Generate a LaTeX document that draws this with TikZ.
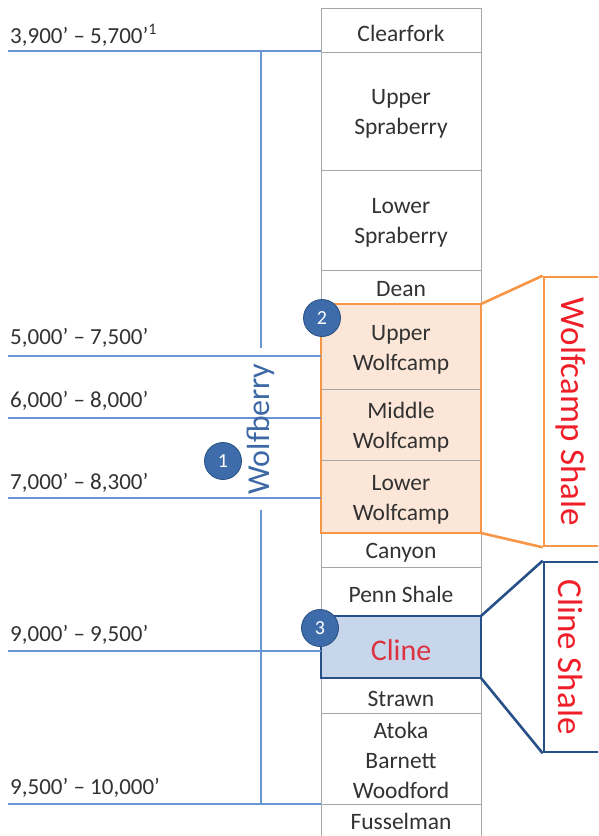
\documentclass[tikz,border=0pt]{standalone}
\usepackage{fontspec}
\setmainfont{Carlito}
\definecolor{gridgray}{RGB}{166,166,166}
\definecolor{txtgray}{RGB}{50,50,50}
\definecolor{lineblue}{RGB}{104,150,210}
\definecolor{wbblue}{RGB}{60,104,165}
\definecolor{orng}{RGB}{247,150,70}
\definecolor{orngfill}{RGB}{252,230,215}
\definecolor{dkblue}{RGB}{38,80,135}
\definecolor{bluefill}{RGB}{200,214,235}
\definecolor{shalered}{RGB}{240,30,40}
\definecolor{clinered}{RGB}{220,50,65}
\definecolor{circfill}{RGB}{62,108,170}
\definecolor{circedge}{RGB}{40,80,130}
\begin{document}
\begin{tikzpicture}[x=1pt,y=-1pt,
  layer/.style={draw=gridgray,line width=0.9pt,minimum width=160pt,inner sep=0pt,outer sep=0pt},
  wclayer/.style={layer,fill=orngfill},
  rowtxt/.style={align=center,inner sep=0pt,text=txtgray,font=\fontsize{23.5}{30}\selectfont},
  depthlbl/.style={anchor=west,inner sep=0pt,text=txtgray,font=\fontsize{23}{27}\selectfont},
  depthline/.style={draw=lineblue,line width=1.3pt},
  numcirc/.style={circle,fill=circfill,draw=circedge,line width=0.8pt,minimum size=37pt,inner sep=0pt,
    text=white,font=\fontsize{20}{24}\selectfont},
  orngline/.style={draw=orng,line width=2.6pt,line join=miter},
  blueline/.style={draw=dkblue,line width=2.6pt,line join=miter},
  shaletxt/.style={text=shalered,inner sep=0pt,font=\fontsize{35}{40}\selectfont}
]
\clip (0,0) rectangle (598,836);
\fill[white] (0,0) rectangle (598,836);

% column boxes
\node[layer,minimum height=44pt] (clear) at (401,30) {};
\node[layer,minimum height=118pt] (usp) at (401,111) {};
\node[layer,minimum height=100pt] (lsp) at (401,220) {};
\node[layer,minimum height=34pt] (dean) at (401,287) {};
\node[wclayer,minimum height=85pt] (uw) at (401,346.5) {};
\node[wclayer,minimum height=71pt] (mw) at (401,424.5) {};
\node[wclayer,minimum height=73pt] (lw) at (401,496.5) {};
\node[layer,minimum height=34pt] (canyon) at (401,550) {};
\node[layer,minimum height=49pt] (penn) at (401,591.5) {};
\node[layer,fill=bluefill,minimum height=62pt] (cline) at (401,647) {};
\node[layer,minimum height=35pt] (strawn) at (401,695.5) {};
\node[layer,minimum height=91pt] (atoka) at (401,758.5) {};
\node[layer,minimum height=40pt] (fuss) at (401,824) {};

% column texts
\node[rowtxt] (tclear) at ([yshift=-3pt]clear.center) {Clearfork};
\node[rowtxt] (tusp) at ([yshift=-3pt]usp.center) {Upper\\Spraberry};
\node[rowtxt] (tlsp) at ([yshift=-3pt]lsp.center) {Lower\\Spraberry};
\node[rowtxt] (tdean) at ([yshift=-2pt]dean.center) {Dean};
\node[rowtxt] (tuw) at ([yshift=-3pt]uw.center) {Upper\\Wolfcamp};
\node[rowtxt] (tmw) at ([yshift=-3pt]mw.center) {Middle\\Wolfcamp};
\node[rowtxt] (tlw) at ([yshift=-3pt]lw.center) {Lower\\Wolfcamp};
\node[rowtxt] (tcanyon) at ([yshift=-3pt]canyon.center) {Canyon};
\node[rowtxt] (tpenn) at ([yshift=-3pt]penn.center) {Penn Shale};
\node[rowtxt,text=clinered,font=\fontsize{30}{34}\selectfont] (tcline) at ([yshift=-3pt]cline.center) {Cline};
\node[rowtxt] (tstrawn) at ([yshift=-3pt]strawn.center) {Strawn};
\node[rowtxt] (tatoka) at ([yshift=-2pt]atoka.center) {Atoka\\Barnett\\Woodford};
\node[rowtxt] (tfuss) at (401,821) {Fusselman};

% highlighted borders
\draw[orngline] (uw.north west) rectangle (lw.south east);
\draw[blueline] (cline.north west) rectangle (cline.south east);

% callouts
\node[draw=orng,line width=2.6pt,minimum width=56pt,minimum height=269pt,inner sep=0pt] (wsb) at (572,411.5) {};
\draw[orngline] (uw.north east) -- (wsb.north west);
\draw[orngline] (lw.south east) -- (wsb.south west);
\node[shaletxt,rotate=-90] (wst) at (571,412) {Wolfcamp Shale};

\node[draw=dkblue,line width=2.6pt,minimum width=56pt,minimum height=190pt,inner sep=0pt] (csb) at (572,657) {};
\draw[blueline] (cline.north east) -- (csb.north west);
\draw[blueline] (cline.south east) -- (csb.south west);
\node[shaletxt,rotate=-90] (cst) at (571,657) {Cline Shale};

% depth labels and lines
\node[depthlbl] (l1) at (10,35) {3,900’ – 5,700’\textsuperscript{1}};
\node[depthlbl] (l2) at (10,338) {5,000’ – 7,500’};
\node[depthlbl] (l3) at (10,401) {6,000’ – 8,000’};
\node[depthlbl] (l4) at (10,483) {7,000’ – 8,300’};
\node[depthlbl] (l5) at (10,635) {9,000’ – 9,500’};
\node[depthlbl] (l6) at (10,788) {9,500’ – 10,000’};
\coordinate (d1) at (8,51);
\coordinate (d2) at (8,356);
\coordinate (d3) at (8,418);
\coordinate (d4) at (8,498);
\coordinate (d5) at (8,651);
\coordinate (d6) at (8,804);
\foreach \d in {d1,d2,d3,d4,d5,d6} {\draw[depthline] (\d) -- (\d -| clear.west);}

% Wolfberry bracket
\coordinate (bt) at (261,51);
\coordinate (bb) at (261,804);
\node[rotate=90,text=wbblue,inner sep=0pt,inner xsep=15pt,font=\fontsize{32}{36}\selectfont] (wb) at (261,429) {Wolfberry};
\draw[depthline] (bt) -- (wb.east);
\draw[depthline] (wb.west) -- (bb);
\draw[depthline] ([xshift=-15pt]bt) -- ([xshift=15pt]bt);
\draw[depthline] ([xshift=-15pt]bb) -- ([xshift=15pt]bb);

% numbered circles
\node[numcirc] (c1) at (223,461) {1};
\node[numcirc] (c2) at (322,318) {2};
\node[numcirc] (c3) at (320,628) {3};
\end{tikzpicture}
\end{document}
